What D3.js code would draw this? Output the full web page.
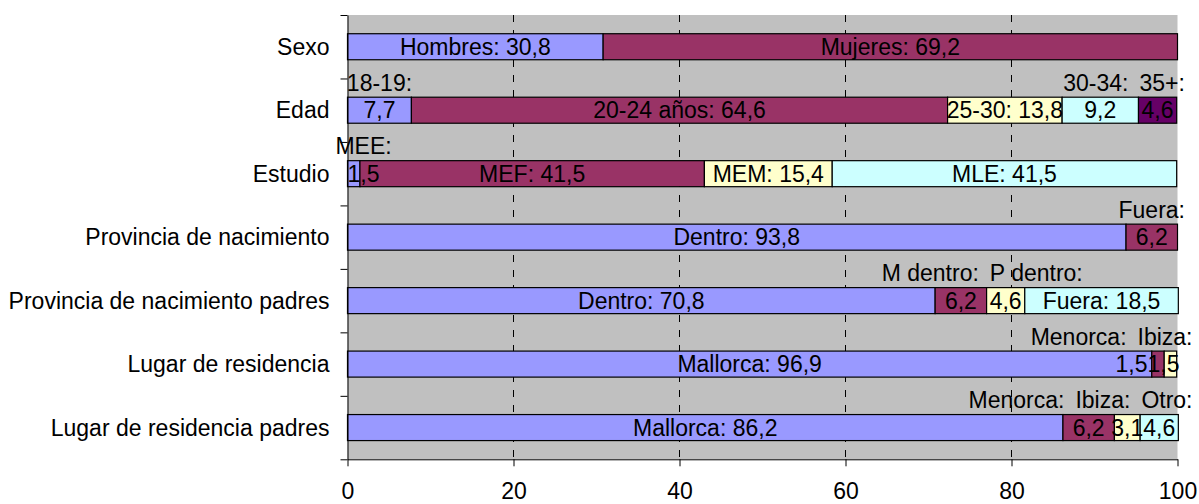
<!DOCTYPE html>
<html>
<head>
<meta charset="utf-8">
<script src="https://cdn.jsdelivr.net/npm/d3@7"></script>
<style>
  html, body { margin: 0; padding: 0; background: #ffffff; }
  svg text { font-family: "Liberation Sans", Arial, sans-serif; fill: #000; }
</style>
</head>
<body>
<svg id="chart" width="1199" height="504"></svg>
<script>
// Row categories, top to bottom
const categories = [
  "Sexo",
  "Edad",
  "Estudio",
  "Provincia de nacimiento",
  "Provincia de nacimiento padres",
  "Lugar de residencia",
  "Lugar de residencia padres"
];

// Segment names for each row
const segmentNames = [
  ["Hombres", "Mujeres"],
  ["18-19", "20-24 años", "25-30", "30-34", "35+"],
  ["MEE", "MEF", "MEM", "MLE"],
  ["Dentro", "Fuera"],
  ["Dentro", "M dentro", "P dentro", "Fuera"],
  ["Mallorca", "Menorca", "Ibiza"],
  ["Mallorca", "Menorca", "Ibiza", "Otro"]
];

// Percentages for each segment
const segmentValues = [
  [30.8, 69.2],
  [7.7, 64.6, 13.8, 9.2, 4.6],
  [1.5, 41.5, 15.4, 41.5],
  [93.8, 6.2],
  [70.8, 6.2, 4.6, 18.5],
  [96.9, 1.5, 1.5],
  [86.2, 6.2, 3.1, 4.6]
];

const xTicks = [0, 20, 40, 60, 80, 100];
const gridValues = [20, 40, 60, 80];

const palette = ["#9999ff", "#993366", "#ffffcc", "#ccffff", "#660066"];

const plot = { left: 347.5, right: 1177.5, top: 15, bottom: 459.3 };
const FS = 23;

const svg = d3.select("#chart");

const x = d3.scaleLinear().domain([0, 100]).range([plot.left, plot.right]);
const y = d3.scaleBand().domain(categories)
  .range([plot.top, plot.bottom])
  .paddingInner(0.59).paddingOuter(0.295);
const rowEdge = d3.scaleLinear().domain([0, categories.length]).range([plot.top, plot.bottom]);

const es = d3.formatLocale({ decimal: ",", thousands: ".", grouping: [3], currency: ["", " €"] });
const fmt = es.format(".1f");

// plot background
svg.append("rect")
  .attr("x", plot.left).attr("y", plot.top)
  .attr("width", plot.right - plot.left).attr("height", plot.bottom - plot.top)
  .attr("fill", "#c0c0c0");

// dashed vertical gridlines
svg.append("g").selectAll("line").data(gridValues).join("line")
  .attr("x1", d => x(d)).attr("x2", d => x(d))
  .attr("y1", plot.top).attr("y2", plot.bottom)
  .attr("stroke", "#000").attr("stroke-width", 1)
  .attr("stroke-dasharray", "7,8");

// stacked segments
const rows = categories.map((c, i) => {
  let acc = 0;
  const segs = segmentValues[i].map((v, j) => {
    const s = { cat: c, name: segmentNames[i][j], value: v, x0: acc, x1: acc + v, idx: j };
    acc += v;
    return s;
  });
  return { cat: c, segs };
});

const barG = svg.append("g");
rows.forEach(r => {
  barG.selectAll(null).data(r.segs).join("rect")
    .attr("x", d => x(d.x0))
    .attr("y", y(r.cat))
    .attr("width", d => x(d.x1) - x(d.x0))
    .attr("height", y.bandwidth())
    .attr("fill", d => palette[d.idx])
    .attr("stroke", "#000").attr("stroke-width", 1.2);
});

// axes
const yTickAxis = d3.axisLeft(rowEdge)
  .tickValues(d3.range(categories.length + 1))
  .tickSize(7).tickSizeOuter(0).tickFormat("");
svg.append("g").attr("transform", `translate(${plot.left},0)`).call(yTickAxis)
  .call(g => g.selectAll("line,path").attr("stroke", "#000"));

const yLabelAxis = d3.axisLeft(y).tickSize(0).tickPadding(18);
svg.append("g").attr("transform", `translate(${plot.left},0)`).call(yLabelAxis)
  .call(g => g.select(".domain").remove())
  .call(g => g.selectAll("text")
    .attr("font-size", FS).attr("font-family", null).attr("dy", "0.35em"));

const xAxis = d3.axisBottom(x).tickValues(xTicks).tickSize(7).tickSizeOuter(0).tickPadding(16)
  .tickFormat(d3.format("d"));
svg.append("g").attr("transform", `translate(0,${plot.bottom})`).call(xAxis)
  .call(g => g.selectAll("line,path").attr("stroke", "#000"))
  .call(g => g.selectAll("text").attr("font-size", FS).attr("font-family", null));

// text measurement helper
const measurer = svg.append("text").attr("font-size", FS).attr("visibility", "hidden");
function textWidth(s) {
  measurer.text(s);
  return measurer.node().getComputedTextLength();
}

// push overlapping labels apart, keeping them inside [lo, hi]
function dodge(items, gap, lo, hi) {
  items.sort((a, b) => a.c - b.c);
  for (let it = 0; it < 200; it++) {
    for (let i = 0; i < items.length - 1; i++) {
      const a = items[i], b = items[i + 1];
      const ov = (a.c + a.w / 2 + gap) - (b.c - b.w / 2);
      if (ov > 0) { a.c -= ov / 2; b.c += ov / 2; }
    }
    items.forEach(d => { d.c = Math.max(lo + d.w / 2, Math.min(hi - d.w / 2, d.c)); });
  }
}

const labelG = svg.append("g").attr("font-size", FS);
const lineGap = 27.5;

rows.forEach(r => {
  const yc = y(r.cat) + y.bandwidth() / 2;
  const barLine = [];
  const nameLine = [];
  r.segs.forEach(s => {
    const full = `${s.name}: ${fmt(s.value)}`;
    const segW = x(s.x1) - x(s.x0);
    const mid = (x(s.x0) + x(s.x1)) / 2;
    const fw = textWidth(full);
    if (fw <= segW + 4) {
      barLine.push({ text: full, c: mid, w: fw });
    } else {
      const v = { text: fmt(s.value), c: mid, w: textWidth(fmt(s.value)) };
      const n = { text: `${s.name}:`, c: mid, w: textWidth(`${s.name}:`), ref: v };
      barLine.push(v);
      nameLine.push(n);
    }
  });
  dodge(barLine, 0, plot.left, plot.right + 2);
  nameLine.forEach(n => { n.c = n.ref.c; });
  dodge(nameLine, 11, plot.left - 15, plot.right + 15);

  labelG.selectAll(null).data(barLine).join("text")
    .attr("x", d => d.c).attr("y", yc).attr("dy", "0.36em")
    .attr("text-anchor", "middle").text(d => d.text);
  labelG.selectAll(null).data(nameLine).join("text")
    .attr("x", d => d.c).attr("y", yc - lineGap).attr("dy", "0.36em")
    .attr("text-anchor", "middle").text(d => d.text);
});
measurer.remove();
</script>
</body>
</html>
